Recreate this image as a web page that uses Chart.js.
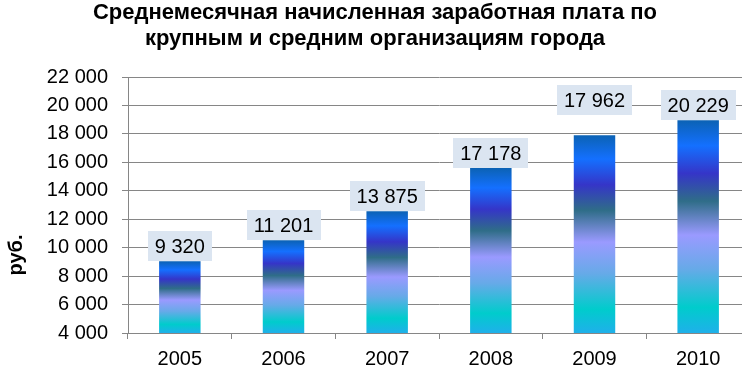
<!DOCTYPE html>
<html lang="ru">
<head>
  <meta charset="utf-8" />
  <title>Среднемесячная начисленная заработная плата</title>
  <style>
html, body {
  margin: 0;
  padding: 0;
  background: #fff;
  overflow: hidden;
}
#myChart { display: block; }
  </style>
</head>
<body>
  <canvas id="myChart" width="752" height="370"></canvas>
  <script src="https://cdn.jsdelivr.net/npm/chart.js"></script>
  <script>

const years = ['2005', '2006', '2007', '2008', '2009', '2010'];
// высота столбцов так, как они нарисованы
const barValues = [9050, 10520, 12560, 15600, 17900, 18960];
// подписи над столбцами, руб.
const labelValues = [9320, 11201, 13875, 17178, 17962, 20229];
const yMin = 4000;
const yMax = 22000;
const yStep = 2000;

const FONT = '"Liberation Sans", Arial, sans-serif';
const GRID = '#868686';

function fmt(v) {
  return String(v).replace(/\B(?=(\d{3})+(?!\d))/g, ' ');
}

// вертикальная заливка столбца
function barFill(context) {
  const chart = context.chart;
  const area = chart.chartArea;
  if (!area || context.type !== 'data') return '#1470ff';
  const yScale = chart.scales.y;
  const top = yScale.getPixelForValue(context.raw);
  const bottom = yScale.getPixelForValue(yMin);
  const g = chart.ctx.createLinearGradient(0, top, 0, bottom);
  g.addColorStop(0, '#0b62b4');
  g.addColorStop(0.12, '#1470ff');
  g.addColorStop(0.25, '#3535c8');
  g.addColorStop(0.38, '#2f6d88');
  g.addColorStop(0.54, '#9a9aff');
  g.addColorStop(0.7, '#66aae8');
  g.addColorStop(0.88, '#00cccc');
  g.addColorStop(1, '#1fb0ea');
  return g;
}

const boxLabels = {
  id: 'boxLabels',
  afterDatasetsDraw(chart, args, opts) {
    const ctx = chart.ctx;
    const meta = chart.getDatasetMeta(0);
    ctx.save();
    ctx.font = opts.font;
    ctx.textAlign = 'center';
    ctx.textBaseline = 'middle';
    meta.data.forEach((bar, i) => {
      const text = fmt(labelValues[i]);
      const w = Math.round(ctx.measureText(text).width + 2 * opts.padX);
      const bottom = Math.round(bar.y - (opts.lift[i] || 0));
      ctx.fillStyle = opts.boxColor;
      ctx.fillRect(Math.round(bar.x - w / 2), bottom - opts.boxH, w, opts.boxH);
      ctx.fillStyle = opts.color;
      ctx.fillText(text, bar.x, bottom - opts.boxH / 2 + 1);
    });
    ctx.restore();
  }
};

// подпись оси "руб." (ниже середины оси, как в оригинале)
const unitTitle = {
  id: 'unitTitle',
  afterDraw(chart, args, opts) {
    const ctx = chart.ctx;
    ctx.save();
    ctx.translate(opts.x, chart.chartArea.bottom - opts.fromBottom);
    ctx.rotate(-Math.PI / 2);
    ctx.font = opts.font;
    ctx.fillStyle = '#000';
    ctx.textAlign = 'center';
    ctx.textBaseline = 'middle';
    ctx.fillText(opts.text, 0, 0);
    ctx.restore();
  }
};

const config = {
  type: 'bar',
  data: {
    labels: years,
    datasets: [{
      data: barValues,
      backgroundColor: barFill,
      borderWidth: 0,
      barPercentage: 0.4,
      categoryPercentage: 1
    }]
  },
  options: {
    responsive: false,
    animation: false,
    layout: { padding: { left: 0, right: 2, top: 0, bottom: 0 } },
    plugins: {
      legend: { display: false },
      tooltip: { enabled: false },
      title: {
        display: true,
        text: ['Среднемесячная начисленная заработная плата по',
               'крупным и средним организациям города'],
        color: '#000',
        font: { family: FONT, size: 22, weight: 'bold', lineHeight: '26px' },
        padding: { top: 0, bottom: 25 }
      },
      boxLabels: {
        font: '20px ' + FONT,
        color: '#000',
        boxColor: '#dbe5f1',
        boxH: 30,
        padX: 7,
        lift: [0, 0, 0, 0, 20, 0]
      },
      unitTitle: {
        text: 'руб.',
        font: 'bold 20px ' + FONT,
        x: 16,
        fromBottom: 78
      }
    },
    scales: {
      x: {
        grid: {
          offset: true,
          drawOnChartArea: false,
          drawTicks: true,
          tickLength: 6,
          color: GRID
        },
        border: { color: GRID },
        ticks: {
          color: '#000',
          font: { family: FONT, size: 20 },
          padding: 8
        },
        afterFit(scale) { scale.height = 37; }
      },
      y: {
        min: yMin,
        max: yMax,
        grid: { color: GRID, tickLength: 6 },
        border: { color: GRID },
        ticks: {
          stepSize: yStep,
          color: '#000',
          font: { family: FONT, size: 20 },
          padding: 14,
          callback: function (value) {
            return fmt(value);
          }
        },
        afterFit(scale) { scale.width = 128; }
      }
    }
  },
  plugins: [boxLabels, unitTitle]
};

var chart = new Chart(document.getElementById('myChart'), config);
  </script>
</body>
</html>
